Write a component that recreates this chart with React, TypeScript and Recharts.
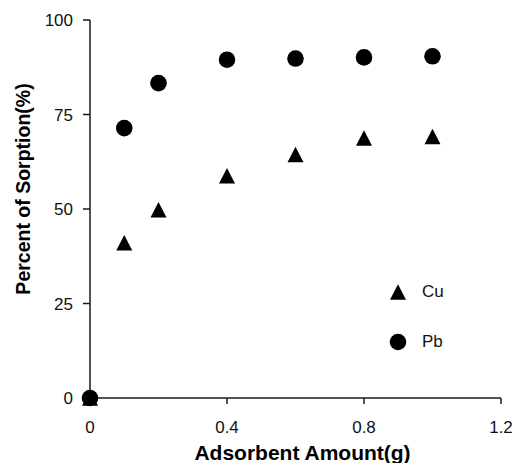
import React from "react"
import { Legend, Scatter, ScatterChart, XAxis, YAxis } from "recharts"

const amounts = [0, 0.1, 0.2, 0.4, 0.6, 0.8, 1.0]
const cuValues = [0, 41.1, 49.8, 58.8, 64.4, 68.8, 69.2]
const pbValues = [0, 71.4, 83.3, 89.5, 89.8, 90.1, 90.4]
const xTicks = [0, 0.4, 0.8, 1.2]
const yTicks = [0, 25, 50, 75, 100]

const cuData = amounts.map((x, i) => ({ x, y: cuValues[i] }))
const pbData = amounts.map((x, i) => ({ x, y: pbValues[i] }))

const font = "'Liberation Sans', Arial, sans-serif"
const axisColor = "#1a1a1a"

function Circle(props: any) {
  const { cx, cy } = props
  return <circle cx={cx} cy={cy} r={8.3} fill="#000" />
}

function Triangle(props: any) {
  const { cx, cy } = props
  const w = 16
  const h = 15.5
  return (
    <polygon
      points={`${cx},${cy - h / 2} ${cx + w / 2},${cy + h / 2} ${cx - w / 2},${cy + h / 2}`}
      fill="#000"
    />
  )
}

function LegendBox() {
  const row = (name: string, icon: React.ReactNode, last: boolean) => (
    <div
      style={{ display: "flex", alignItems: "center", height: 18, marginBottom: last ? 0 : 32 }}
    >
      <svg width={20} height={18}>{icon}</svg>
      <span style={{ marginLeft: 14, fontSize: 17, fontFamily: font, color: "#111" }}>{name}</span>
    </div>
  )
  return (
    <div>
      {row("Cu", <polygon points="10,1.25 18,16.75 2,16.75" fill="#000" />, false)}
      {row("Pb", <circle cx={10} cy={9} r={8.3} fill="#000" />, true)}
    </div>
  )
}

export default function App() {
  return (
    <div style={{ position: "fixed", left: 0, top: 0, background: "#fff" }}>
      <ScatterChart width={515} height={463} margin={{ top: 20, right: 14, bottom: 0, left: 0 }}>
        <XAxis
          type="number"
          dataKey="x"
          domain={[0, 1.2]}
          ticks={xTicks}
          tickFormatter={(v: number) => String(v)}
          height={65}
          tickSize={6}
          tickMargin={17}
          stroke={axisColor}
          strokeWidth={1.5}
          tick={{ fill: "#111", fontSize: 17, fontFamily: font }}
          label={{
            value: "Adsorbent Amount(g)",
            position: "insideBottom",
            offset: 3,
            dx: 7,
            style: { fontSize: 21, fontWeight: "bold", fontFamily: font, fill: "#000" },
          }}
        />
        <YAxis
          type="number"
          dataKey="y"
          domain={[0, 100]}
          ticks={yTicks}
          width={90}
          tickSize={7}
          tickMargin={10}
          stroke={axisColor}
          strokeWidth={1.5}
          tick={{ fill: "#111", fontSize: 17, fontFamily: font }}
          label={{
            value: "Percent of Sorption(%)",
            angle: -90,
            position: "insideLeft",
            offset: 0,
            dx: 23,
            dy: -20,
            style: { textAnchor: "middle", fontSize: 19.5, fontWeight: "bold", fontFamily: font, fill: "#000" },
          }}
        />
        <Legend
          layout="vertical"
          align="center"
          verticalAlign="middle"
          wrapperStyle={{ left: 388, top: 283, width: 80 }}
          content={() => <LegendBox />}
        />
        <Scatter name="Pb" data={pbData} shape={<Circle />} isAnimationActive={false} />
        <Scatter name="Cu" data={cuData} shape={<Triangle />} isAnimationActive={false} />
      </ScatterChart>
    </div>
  )
}
